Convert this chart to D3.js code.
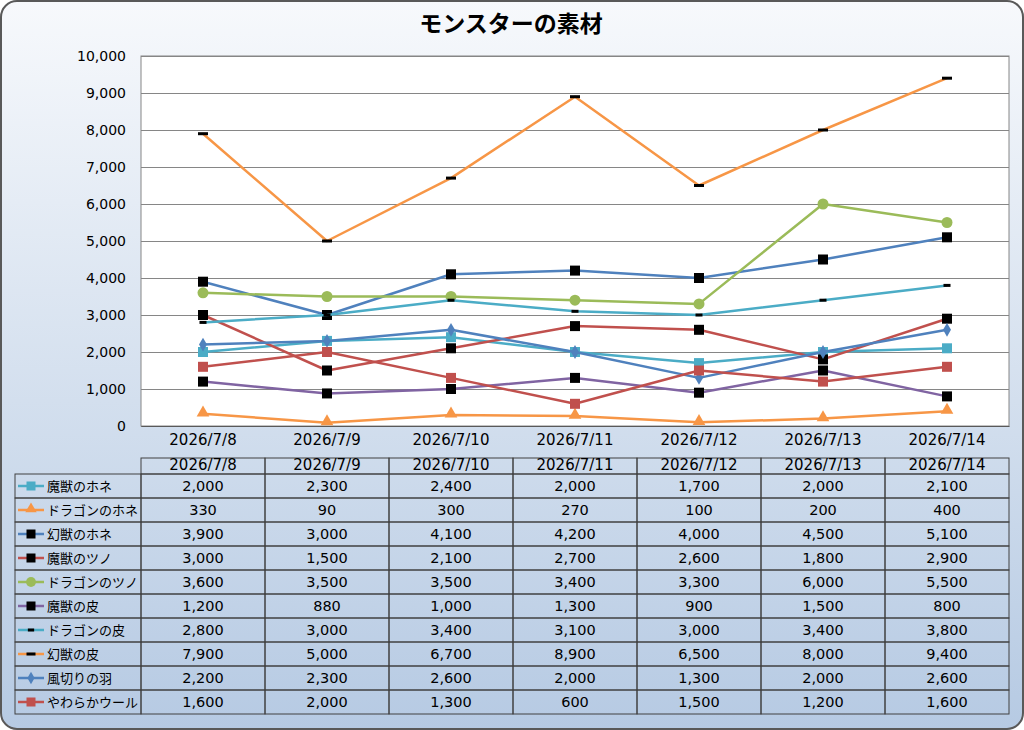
<!DOCTYPE html>
<html>
<head>
<meta charset="utf-8">
<script src="https://cdn.jsdelivr.net/npm/d3@7"></script>
<style>
  body { margin: 0; background: #fff; }
  text { font-family: "DejaVu Sans", "Noto Sans CJK JP", sans-serif; fill: #000; }
</style>
</head>
<body>
<script>
// chart data
var title = "モンスターの素材";
var categories = ["2026/7/8", "2026/7/9", "2026/7/10", "2026/7/11", "2026/7/12", "2026/7/13", "2026/7/14"];
var seriesNames = ["魔獣のホネ", "ドラゴンのホネ", "幻獣のホネ", "魔獣のツノ", "ドラゴンのツノ",
                   "魔獣の皮", "ドラゴンの皮", "幻獣の皮", "風切りの羽", "やわらかウール"];
var majuHone    = [2000, 2300, 2400, 2000, 1700, 2000, 2100];
var dragonHone  = [330, 90, 300, 270, 100, 200, 400];
var genjuHone   = [3900, 3000, 4100, 4200, 4000, 4500, 5100];
var majuTsuno   = [3000, 1500, 2100, 2700, 2600, 1800, 2900];
var dragonTsuno = [3600, 3500, 3500, 3400, 3300, 6000, 5500];
var majuKawa    = [1200, 880, 1000, 1300, 900, 1500, 800];
var dragonKawa  = [2800, 3000, 3400, 3100, 3000, 3400, 3800];
var genjuKawa   = [7900, 5000, 6700, 8900, 6500, 8000, 9400];
var kazekiri    = [2200, 2300, 2600, 2000, 1300, 2000, 2600];
var wool        = [1600, 2000, 1300, 600, 1500, 1200, 1600];
var yTicks = [0, 1000, 2000, 3000, 4000, 5000, 6000, 7000, 8000, 9000, 10000];

var seriesValues = [majuHone, dragonHone, genjuHone, majuTsuno, dragonTsuno,
                    majuKawa, dragonKawa, genjuKawa, kazekiri, wool];
var lineColors = ["#4bacc6", "#f79646", "#4f81bd", "#c0504d", "#9bbb59",
                  "#8064a2", "#4bacc6", "#f79646", "#4f81bd", "#c0504d"];
var markers = ["square", "triangle", "blacksquare", "blacksquare", "circle",
               "blacksquare", "smalldash", "dash", "diamond", "square"];

var W = 1024, H = 730;
var plotL = 141, plotR = 1009, plotT = 56, plotB = 426;
var tableT = 458, headH = 16, rowH = 24, legendL = 15;

var svg = d3.select("body").append("svg")
  .attr("width", W).attr("height", H);

var defs = svg.append("defs");
var grad = defs.append("linearGradient").attr("id", "bg")
  .attr("x1", 0).attr("y1", 0).attr("x2", 0).attr("y2", 1);
grad.append("stop").attr("offset", "0%").attr("stop-color", "#f7f9fc");
grad.append("stop").attr("offset", "55%").attr("stop-color", "#d3dfee");
grad.append("stop").attr("offset", "100%").attr("stop-color", "#b6cae3");

svg.append("rect")
  .attr("x", 1).attr("y", 1).attr("width", W - 2).attr("height", H - 2)
  .attr("rx", 16).attr("ry", 16)
  .attr("fill", "url(#bg)").attr("stroke", "#595959").attr("stroke-width", 2);

svg.append("text")
  .attr("x", 511).attr("y", 32)
  .attr("text-anchor", "middle")
  .style("font-family", "'Noto Sans CJK JP', sans-serif")
  .style("font-size", "23px").style("font-weight", "bold")
  .text(title);

var x = d3.scaleBand().domain(categories).range([plotL, plotR]);
var y = d3.scaleLinear().domain([0, 10000]).range([plotB, plotT]);
var cx = function(c) { return x(c) + x.bandwidth() / 2; };

// plot area
svg.append("rect")
  .attr("x", plotL).attr("y", plotT)
  .attr("width", plotR - plotL).attr("height", plotB - plotT)
  .attr("fill", "#fff");

var grid = svg.append("g").attr("transform", "translate(" + plotL + ",0)")
  .call(d3.axisLeft(y).tickValues(yTicks).tickSize(-(plotR - plotL)).tickFormat(""));
grid.select(".domain").remove();
grid.selectAll("line").attr("stroke", "#868686");

svg.append("rect")
  .attr("x", plotL).attr("y", plotT)
  .attr("width", plotR - plotL).attr("height", plotB - plotT)
  .attr("fill", "none").attr("stroke", "#868686");

var yAxis = svg.append("g").attr("transform", "translate(" + plotL + ",0)")
  .call(d3.axisLeft(y).tickValues(yTicks).tickSize(0).tickPadding(15).tickFormat(d3.format(",")));
yAxis.select(".domain").remove();
yAxis.selectAll("text").style("font-size", "14px").attr("fill", "#000");

var xAxis = svg.append("g").attr("transform", "translate(0," + plotB + ")")
  .call(d3.axisBottom(x).tickSize(0).tickPadding(8));
xAxis.select(".domain").attr("stroke", "#595959");
xAxis.selectAll("text").style("font-size", "15px").attr("fill", "#000");

function drawMarker(g, type, color, px, py, scale) {
  var s = scale || 1;
  if (type == "square") {
    g.append("rect").attr("x", px - 5 * s).attr("y", py - 5 * s)
      .attr("width", 10 * s).attr("height", 10 * s).attr("fill", color);
  } else if (type == "blacksquare") {
    g.append("rect").attr("x", px - 5 * s).attr("y", py - 5 * s)
      .attr("width", 10 * s).attr("height", 10 * s).attr("fill", "#000");
  } else if (type == "triangle") {
    g.append("path").attr("d", d3.symbol(d3.symbolTriangle, 70 * s * s)())
      .attr("transform", "translate(" + px + "," + (py - 1) + ")").attr("fill", color);
  } else if (type == "circle") {
    g.append("circle").attr("cx", px).attr("cy", py).attr("r", 5.5 * s).attr("fill", color);
  } else if (type == "diamond") {
    g.append("path").attr("d", d3.symbol(d3.symbolDiamond, 55 * s * s)())
      .attr("transform", "translate(" + px + "," + py + ")").attr("fill", color);
  } else if (type == "smalldash") {
    g.append("rect").attr("x", px - 3.5 * s).attr("y", py - 1.5)
      .attr("width", 7 * s).attr("height", 3).attr("fill", "#000");
  } else if (type == "dash") {
    g.append("rect").attr("x", px - 5 * s).attr("y", py - 1.5)
      .attr("width", 10 * s).attr("height", 3).attr("fill", "#000");
  }
}

var line = d3.line()
  .x(function(d, i) { return cx(categories[i]); })
  .y(function(d) { return y(d); });

seriesValues.forEach(function(vals, k) {
  var g = svg.append("g");
  g.append("path").datum(vals).attr("d", line)
    .attr("fill", "none").attr("stroke", lineColors[k]).attr("stroke-width", 2.5)
    .attr("stroke-linejoin", "round");
  vals.forEach(function(v, i) {
    drawMarker(g, markers[k], lineColors[k], cx(categories[i]), y(v));
  });
});

// data table
var tbl = svg.append("g");
var fmt = d3.format(",");
var cellStroke = "#404040";

categories.forEach(function(c) {
  tbl.append("rect").attr("x", x(c)).attr("y", tableT)
    .attr("width", x.bandwidth()).attr("height", headH)
    .attr("fill", "none").attr("stroke", cellStroke);
  tbl.append("text").attr("x", cx(c)).attr("y", tableT + 12)
    .attr("text-anchor", "middle").style("font-size", "15px").text(c);
});

seriesNames.forEach(function(name, k) {
  var ry = tableT + headH + k * rowH;
  tbl.append("rect").attr("x", legendL).attr("y", ry)
    .attr("width", plotL - legendL).attr("height", rowH)
    .attr("fill", "none").attr("stroke", cellStroke);
  tbl.append("line").attr("x1", 18).attr("x2", 44).attr("y1", ry + 12).attr("y2", ry + 12)
    .attr("stroke", lineColors[k]).attr("stroke-width", 2.5);
  drawMarker(tbl, markers[k], lineColors[k], 31, ry + 12, 0.9);
  tbl.append("text").attr("x", 47).attr("y", ry + 17)
    .style("font-size", "13px").text(name);
  seriesValues[k].forEach(function(v, i) {
    var c = categories[i];
    tbl.append("rect").attr("x", x(c)).attr("y", ry)
      .attr("width", x.bandwidth()).attr("height", rowH)
      .attr("fill", "none").attr("stroke", cellStroke);
    tbl.append("text").attr("x", cx(c)).attr("y", ry + 16.5)
      .attr("text-anchor", "middle").style("font-size", "14.5px").text(fmt(v));
  });
});
</script>
</body>
</html>
